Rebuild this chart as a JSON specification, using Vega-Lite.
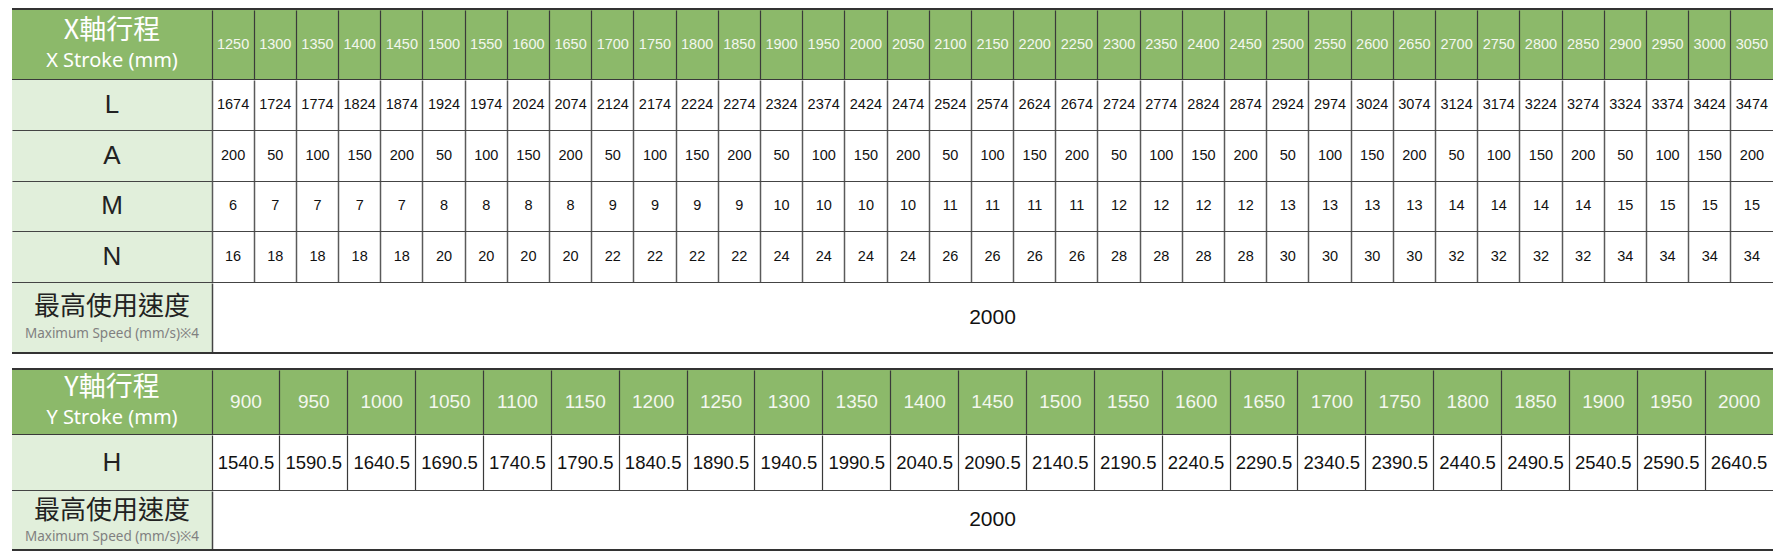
{
  "$schema": "https://vega.github.io/schema/vega-lite/v6.json",
  "padding": {"left": 12, "top": 8, "right": 0, "bottom": 0},
  "spacing": 14,
  "config": {
    "view": {"stroke": null},
    "concat": {"spacing": 0},
    "axis": {"labels": false, "ticks": false, "domain": false, "grid": true}
  },
  "datasets": {
    "xStroke": [
      {"stroke": 1250, "L": 1674, "A": 200, "M": 6, "N": 16},
      {"stroke": 1300, "L": 1724, "A": 50, "M": 7, "N": 18},
      {"stroke": 1350, "L": 1774, "A": 100, "M": 7, "N": 18},
      {"stroke": 1400, "L": 1824, "A": 150, "M": 7, "N": 18},
      {"stroke": 1450, "L": 1874, "A": 200, "M": 7, "N": 18},
      {"stroke": 1500, "L": 1924, "A": 50, "M": 8, "N": 20},
      {"stroke": 1550, "L": 1974, "A": 100, "M": 8, "N": 20},
      {"stroke": 1600, "L": 2024, "A": 150, "M": 8, "N": 20},
      {"stroke": 1650, "L": 2074, "A": 200, "M": 8, "N": 20},
      {"stroke": 1700, "L": 2124, "A": 50, "M": 9, "N": 22},
      {"stroke": 1750, "L": 2174, "A": 100, "M": 9, "N": 22},
      {"stroke": 1800, "L": 2224, "A": 150, "M": 9, "N": 22},
      {"stroke": 1850, "L": 2274, "A": 200, "M": 9, "N": 22},
      {"stroke": 1900, "L": 2324, "A": 50, "M": 10, "N": 24},
      {"stroke": 1950, "L": 2374, "A": 100, "M": 10, "N": 24},
      {"stroke": 2000, "L": 2424, "A": 150, "M": 10, "N": 24},
      {"stroke": 2050, "L": 2474, "A": 200, "M": 10, "N": 24},
      {"stroke": 2100, "L": 2524, "A": 50, "M": 11, "N": 26},
      {"stroke": 2150, "L": 2574, "A": 100, "M": 11, "N": 26},
      {"stroke": 2200, "L": 2624, "A": 150, "M": 11, "N": 26},
      {"stroke": 2250, "L": 2674, "A": 200, "M": 11, "N": 26},
      {"stroke": 2300, "L": 2724, "A": 50, "M": 12, "N": 28},
      {"stroke": 2350, "L": 2774, "A": 100, "M": 12, "N": 28},
      {"stroke": 2400, "L": 2824, "A": 150, "M": 12, "N": 28},
      {"stroke": 2450, "L": 2874, "A": 200, "M": 12, "N": 28},
      {"stroke": 2500, "L": 2924, "A": 50, "M": 13, "N": 30},
      {"stroke": 2550, "L": 2974, "A": 100, "M": 13, "N": 30},
      {"stroke": 2600, "L": 3024, "A": 150, "M": 13, "N": 30},
      {"stroke": 2650, "L": 3074, "A": 200, "M": 13, "N": 30},
      {"stroke": 2700, "L": 3124, "A": 50, "M": 14, "N": 32},
      {"stroke": 2750, "L": 3174, "A": 100, "M": 14, "N": 32},
      {"stroke": 2800, "L": 3224, "A": 150, "M": 14, "N": 32},
      {"stroke": 2850, "L": 3274, "A": 200, "M": 14, "N": 32},
      {"stroke": 2900, "L": 3324, "A": 50, "M": 15, "N": 34},
      {"stroke": 2950, "L": 3374, "A": 100, "M": 15, "N": 34},
      {"stroke": 3000, "L": 3424, "A": 150, "M": 15, "N": 34},
      {"stroke": 3050, "L": 3474, "A": 200, "M": 15, "N": 34}
    ],
    "yStroke": [
      {"stroke": 900, "H": 1540.5},
      {"stroke": 950, "H": 1590.5},
      {"stroke": 1000, "H": 1640.5},
      {"stroke": 1050, "H": 1690.5},
      {"stroke": 1100, "H": 1740.5},
      {"stroke": 1150, "H": 1790.5},
      {"stroke": 1200, "H": 1840.5},
      {"stroke": 1250, "H": 1890.5},
      {"stroke": 1300, "H": 1940.5},
      {"stroke": 1350, "H": 1990.5},
      {"stroke": 1400, "H": 2040.5},
      {"stroke": 1450, "H": 2090.5},
      {"stroke": 1500, "H": 2140.5},
      {"stroke": 1550, "H": 2190.5},
      {"stroke": 1600, "H": 2240.5},
      {"stroke": 1650, "H": 2290.5},
      {"stroke": 1700, "H": 2340.5},
      {"stroke": 1750, "H": 2390.5},
      {"stroke": 1800, "H": 2440.5},
      {"stroke": 1850, "H": 2490.5},
      {"stroke": 1900, "H": 2540.5},
      {"stroke": 1950, "H": 2590.5},
      {"stroke": 2000, "H": 2640.5}
    ]
  },
  "vconcat": [
    {
      "spacing": 0,
      "vconcat": [
        {
          "width": 1761, "height": 2,
          "data": {"values": [{}]},
          "view": {"fill": "#333333"},
          "mark": {"type": "text", "text": "", "fontSize": 0},
          "encoding": {}
        },
        {
          "spacing": 0,
          "hconcat": [
            {
              "width": 200, "height": 69,
              "data": {"values": [{}]},
              "view": {"fill": "#8cb96a"},
              "layer": [
                {"mark": {"type": "text", "text": "X軸行程", "font": "Noto Sans CJK TC", "fontSize": 27, "color": "#ffffff", "dy": -14}, "encoding": {}},
                {"mark": {"type": "text", "text": "X Stroke (mm)", "font": "Noto Sans", "fontSize": 20, "color": "#ffffff", "dy": 16}, "encoding": {}}
              ]
            },
            {
              "width": 1561, "height": 69,
              "data": {"name": "xStroke"},
              "view": {"fill": "#8cb96a"},
              "mark": {"type": "text", "font": "Liberation Sans", "fontSize": 14.5, "color": "#f3f7ee"},
              "encoding": {
                "x": {"field": "stroke", "type": "ordinal", "title": null,
                      "scale": {"type": "band", "paddingInner": 0, "paddingOuter": 0},
                      "axis": {"bandPosition": 0, "gridColor": "#3a3a3a", "gridWidth": 1.2}},
                "text": {"field": "stroke", "type": "nominal"}
              }
            }
          ]
        },
        {
          "width": 1761, "height": 1,
          "data": {"values": [{}]},
          "view": {"fill": "#3a3a3a"},
          "mark": {"type": "text", "text": "", "fontSize": 0},
          "encoding": {}
        },
        {
          "spacing": 0,
          "hconcat": [
            {
              "width": 200, "height": 202,
              "data": {"values": [{"key": "L"}, {"key": "A"}, {"key": "M"}, {"key": "N"}]},
              "view": {"fill": "#e1efdb"},
              "mark": {"type": "text", "font": "Liberation Sans", "fontSize": 26, "color": "#222222"},
              "encoding": {
                "y": {"field": "key", "type": "ordinal", "sort": ["L", "A", "M", "N"], "title": null,
                      "scale": {"type": "band", "paddingInner": 0, "paddingOuter": 0},
                      "axis": {"bandPosition": 1, "gridColor": "#444444", "gridWidth": 1.2}},
                "text": {"field": "key", "type": "nominal"}
              }
            },
            {
              "width": 1561, "height": 202,
              "data": {"name": "xStroke"},
              "transform": [{"fold": ["L", "A", "M", "N"], "as": ["key", "value"]}],
              "view": {"fill": "#ffffff"},
              "mark": {"type": "text", "font": "Liberation Sans", "fontSize": 14.5, "color": "#111111"},
              "encoding": {
                "x": {"field": "stroke", "type": "ordinal", "title": null,
                      "scale": {"type": "band", "paddingInner": 0, "paddingOuter": 0},
                      "axis": {"bandPosition": 0, "gridColor": "#5a5a5a", "gridWidth": 1.5}},
                "y": {"field": "key", "type": "ordinal", "sort": ["L", "A", "M", "N"], "title": null,
                      "scale": {"type": "band", "paddingInner": 0, "paddingOuter": 0},
                      "axis": {"bandPosition": 1, "gridColor": "#444444", "gridWidth": 1.2}},
                "text": {"field": "value", "type": "nominal"}
              }
            }
          ]
        },
        {
          "width": 1761, "height": 1,
          "data": {"values": [{}]},
          "view": {"fill": "#444444"},
          "mark": {"type": "text", "text": "", "fontSize": 0},
          "encoding": {}
        },
        {
          "spacing": 0,
          "hconcat": [
            {
              "width": 200, "height": 69,
              "data": {"values": [{}]},
              "view": {"fill": "#e1efdb"},
              "layer": [
                {"mark": {"type": "text", "text": "最高使用速度", "font": "Noto Sans CJK TC", "fontSize": 26, "color": "#222222", "dy": -11}, "encoding": {}},
                {"mark": {"type": "text", "text": "Maximum Speed (mm/s)※4", "font": "Noto Sans", "fontSize": 13.5, "color": "#808080", "dy": 16}, "encoding": {}}
              ]
            },
            {
              "width": 1561, "height": 69,
              "data": {"values": [{"speed": 2000}]},
              "view": {"fill": "#ffffff"},
              "mark": {"type": "text", "font": "Liberation Sans", "fontSize": 21, "color": "#111111"},
              "encoding": {
                "x": {"field": "speed", "type": "ordinal", "title": null,
                      "scale": {"type": "band", "paddingInner": 0, "paddingOuter": 0},
                      "axis": {"bandPosition": 0, "gridColor": "#444444", "gridWidth": 1.5}},
                "text": {"field": "speed", "type": "nominal"}
              }
            }
          ]
        },
        {
          "width": 1761, "height": 2,
          "data": {"values": [{}]},
          "view": {"fill": "#333333"},
          "mark": {"type": "text", "text": "", "fontSize": 0},
          "encoding": {}
        }
      ]
    },
    {
      "spacing": 0,
      "vconcat": [
        {
          "width": 1761, "height": 2,
          "data": {"values": [{}]},
          "view": {"fill": "#333333"},
          "mark": {"type": "text", "text": "", "fontSize": 0},
          "encoding": {}
        },
        {
          "spacing": 0,
          "hconcat": [
            {
              "width": 200, "height": 64,
              "data": {"values": [{}]},
              "view": {"fill": "#8cb96a"},
              "layer": [
                {"mark": {"type": "text", "text": "Y軸行程", "font": "Noto Sans CJK TC", "fontSize": 27, "color": "#ffffff", "dy": -14}, "encoding": {}},
                {"mark": {"type": "text", "text": "Y Stroke (mm)", "font": "Noto Sans", "fontSize": 20, "color": "#ffffff", "dy": 16}, "encoding": {}}
              ]
            },
            {
              "width": 1561, "height": 64,
              "data": {"name": "yStroke"},
              "view": {"fill": "#8cb96a"},
              "mark": {"type": "text", "font": "Liberation Sans", "fontSize": 19, "color": "#f3f7ee"},
              "encoding": {
                "x": {"field": "stroke", "type": "ordinal", "title": null,
                      "scale": {"type": "band", "paddingInner": 0, "paddingOuter": 0},
                      "axis": {"bandPosition": 0, "gridColor": "#3a3a3a", "gridWidth": 1.2}},
                "text": {"field": "stroke", "type": "nominal"}
              }
            }
          ]
        },
        {
          "width": 1761, "height": 1,
          "data": {"values": [{}]},
          "view": {"fill": "#3a3a3a"},
          "mark": {"type": "text", "text": "", "fontSize": 0},
          "encoding": {}
        },
        {
          "spacing": 0,
          "hconcat": [
            {
              "width": 200, "height": 55,
              "data": {"values": [{"key": "H"}]},
              "view": {"fill": "#e1efdb"},
              "mark": {"type": "text", "font": "Liberation Sans", "fontSize": 26, "color": "#222222"},
              "encoding": {
                "y": {"field": "key", "type": "ordinal", "title": null,
                      "scale": {"type": "band", "paddingInner": 0, "paddingOuter": 0},
                      "axis": {"bandPosition": 1, "gridColor": "#444444", "gridWidth": 1.2}},
                "text": {"field": "key", "type": "nominal"}
              }
            },
            {
              "width": 1561, "height": 55,
              "data": {"name": "yStroke"},
              "view": {"fill": "#ffffff"},
              "mark": {"type": "text", "font": "Liberation Sans", "fontSize": 18.5, "color": "#111111"},
              "encoding": {
                "x": {"field": "stroke", "type": "ordinal", "title": null,
                      "scale": {"type": "band", "paddingInner": 0, "paddingOuter": 0},
                      "axis": {"bandPosition": 0, "gridColor": "#3a3a3a", "gridWidth": 1.2}},
                "y": {"datum": "H", "type": "ordinal", "title": null,
                      "scale": {"type": "band", "paddingInner": 0, "paddingOuter": 0},
                      "axis": {"bandPosition": 1, "gridColor": "#444444", "gridWidth": 1.2}},
                "text": {"field": "H", "type": "nominal"}
              }
            }
          ]
        },
        {
          "width": 1761, "height": 1,
          "data": {"values": [{}]},
          "view": {"fill": "#444444"},
          "mark": {"type": "text", "text": "", "fontSize": 0},
          "encoding": {}
        },
        {
          "spacing": 0,
          "hconcat": [
            {
              "width": 200, "height": 58,
              "data": {"values": [{}]},
              "view": {"fill": "#e1efdb"},
              "layer": [
                {"mark": {"type": "text", "text": "最高使用速度", "font": "Noto Sans CJK TC", "fontSize": 26, "color": "#222222", "dy": -9}, "encoding": {}},
                {"mark": {"type": "text", "text": "Maximum Speed (mm/s)※4", "font": "Noto Sans", "fontSize": 13.5, "color": "#808080", "dy": 17}, "encoding": {}}
              ]
            },
            {
              "width": 1561, "height": 58,
              "data": {"values": [{"speed": 2000}]},
              "view": {"fill": "#ffffff"},
              "mark": {"type": "text", "font": "Liberation Sans", "fontSize": 21, "color": "#111111"},
              "encoding": {
                "x": {"field": "speed", "type": "ordinal", "title": null,
                      "scale": {"type": "band", "paddingInner": 0, "paddingOuter": 0},
                      "axis": {"bandPosition": 0, "gridColor": "#444444", "gridWidth": 1.5}},
                "text": {"field": "speed", "type": "nominal"}
              }
            }
          ]
        },
        {
          "width": 1761, "height": 2,
          "data": {"values": [{}]},
          "view": {"fill": "#333333"},
          "mark": {"type": "text", "text": "", "fontSize": 0},
          "encoding": {}
        }
      ]
    }
  ]
}
